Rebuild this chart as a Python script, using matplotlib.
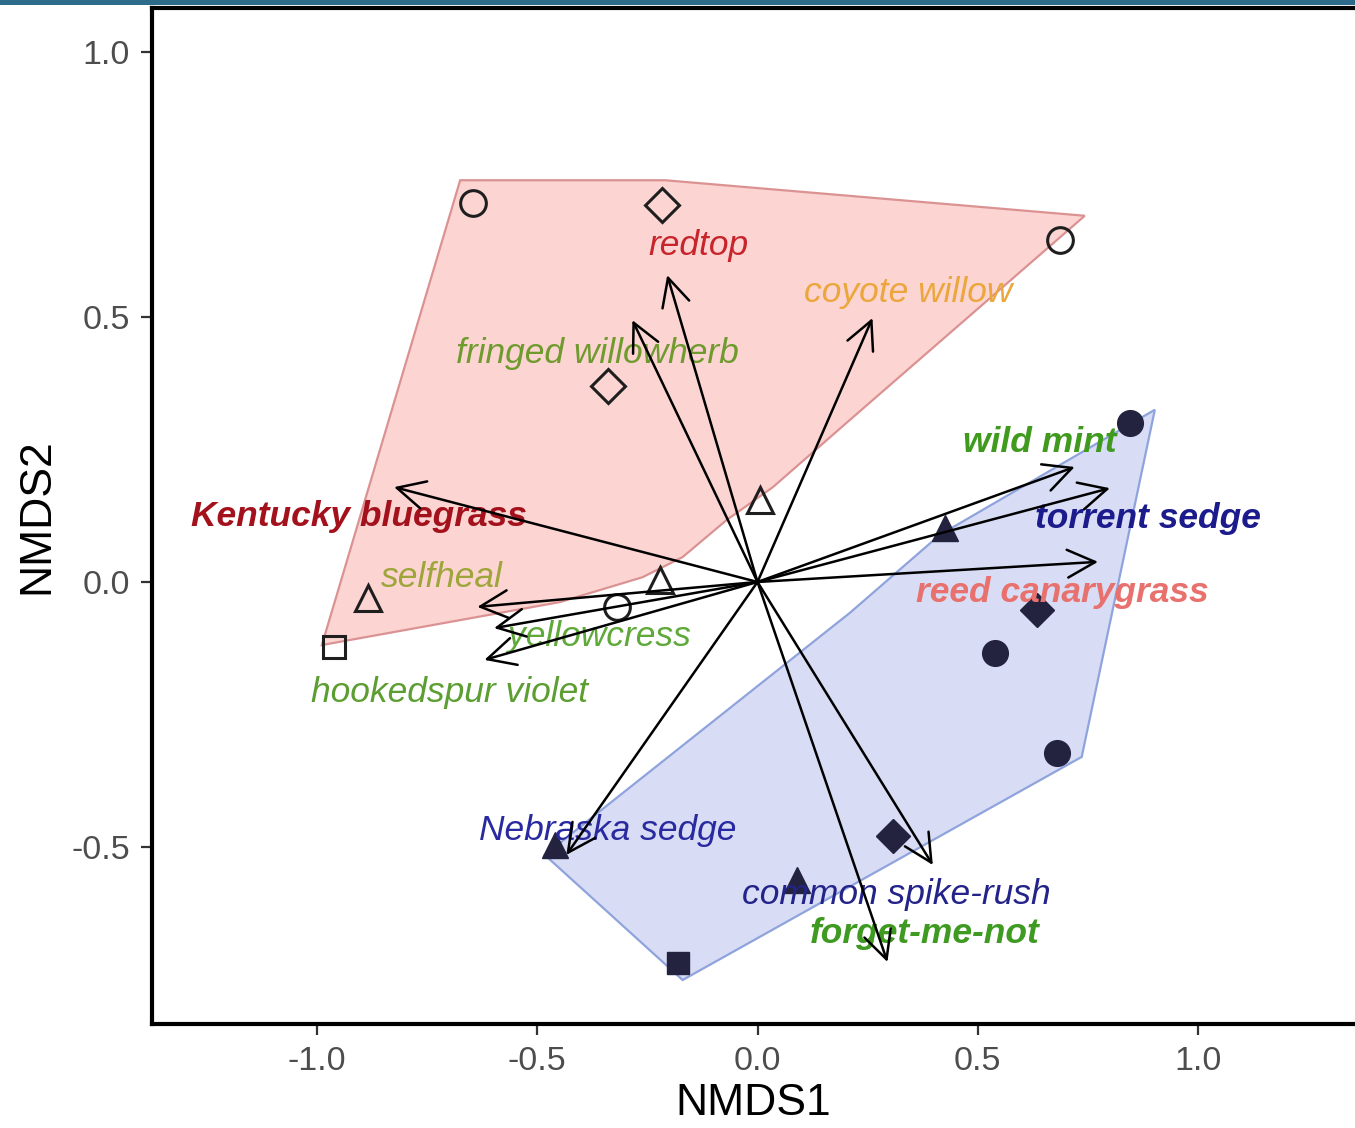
import numpy as np
import matplotlib.pyplot as plt
from matplotlib.patches import Polygon, FancyArrowPatch, Rectangle

plt.rcParams['font.family'] = ['Liberation Sans', 'DejaVu Sans']

# Site scores (NMDS1, NMDS2), marker shape and group
sites_x = [-0.645, -0.217, 0.686, -0.339, 0.005, -0.885, -0.222, -0.318, -0.962,
           0.846, 0.425, 0.635, 0.539, 0.680, 0.307, 0.090, -0.460, -0.181]
sites_y = [0.715, 0.711, 0.645, 0.370, 0.155, -0.030, 0.004, -0.047, -0.123,
           0.300, 0.102, -0.053, -0.134, -0.323, -0.479, -0.562, -0.496, -0.719]
sites_shape = ['o', 'D', 'o', 'D', '^', '^', '^', 'o', 's',
               'o', '^', 'D', 'o', 'o', 'D', '^', '^', 's']
sites_group = ['upland'] * 9 + ['wetland'] * 9

# Hull outlines for the two groups
upland_hull_x = [-0.675, -0.210, 0.743, 0.210, 0.035, -0.070, -0.170, -0.261, -0.449, -0.989]
upland_hull_y = [0.758, 0.758, 0.691, 0.306, 0.179, 0.117, 0.047, 0.009, -0.038, -0.119]
wetland_hull_x = [0.902, 0.736, -0.170, -0.483, 0.210, 0.414]
wetland_hull_y = [0.325, -0.330, -0.751, -0.515, -0.058, 0.089]

# Species vectors
species = ['redtop', 'fringed willowherb', 'coyote willow', 'Kentucky bluegrass',
           'selfheal', 'yellowcress', 'hookedspur violet', 'wild mint',
           'torrent sedge', 'reed canarygrass', 'Nebraska sedge',
           'common spike-rush', 'forget-me-not']
vec_x = [-0.205, -0.284, 0.261, -0.825, -0.636, -0.598, -0.620, 0.720,
         0.800, 0.773, -0.434, 0.398, 0.295]
vec_y = [0.579, 0.494, 0.498, 0.179, -0.047, -0.087, -0.147, 0.217,
         0.177, 0.038, -0.515, -0.534, -0.717]
label_x = [-0.134, -0.364, 0.341, -0.905, -0.716, -0.359, -0.700, 0.641,
           0.886, 0.691, -0.341, 0.316, 0.380]
label_y = [0.634, 0.432, 0.547, 0.123, 0.008, -0.102, -0.208, 0.264,
           0.119, -0.019, -0.468, -0.589, -0.664]
label_color = ['#c8242c', '#6f9a2e', '#eba63c', '#a3121c', '#9ea53a', '#5fa83a',
               '#5c9e32', '#3f9a1e', '#1b1b8c', '#e8716e', '#2a2aa0', '#23238a',
               '#3e9a20']
label_bold = [False, False, False, True, False, False, False, True,
              True, True, False, False, True]

fig = plt.figure(figsize=(13.55, 11.28), dpi=100)
ax = fig.add_axes([152 / 1355, 104 / 1128, 1203 / 1355, 1016 / 1128])

# strip along the top edge
fig.patches.append(Rectangle((0, 1 - 5 / 1128), 1, 5 / 1128, transform=fig.transFigure,
                             facecolor='#2e6a8a', edgecolor='none'))

ax.add_patch(Polygon(np.column_stack([upland_hull_x, upland_hull_y]), closed=True,
                     facecolor='#F8766D', alpha=0.3, edgecolor='none', zorder=1))
ax.add_patch(Polygon(np.column_stack([upland_hull_x, upland_hull_y]), closed=True,
                     facecolor='none', edgecolor='#db9292', lw=1.6, zorder=1.1))
ax.add_patch(Polygon(np.column_stack([wetland_hull_x, wetland_hull_y]), closed=True,
                     facecolor='#7f8fe0', alpha=0.3, edgecolor='none', zorder=1))
ax.add_patch(Polygon(np.column_stack([wetland_hull_x, wetland_hull_y]), closed=True,
                     facecolor='none', edgecolor='#8fa3dc', lw=1.6, zorder=1.1))

msize = {'o': 18.5, 'D': 17.5, '^': 18.5, 's': 16.5}
for x, y, m, g in zip(sites_x, sites_y, sites_shape, sites_group):
    if g == 'upland':
        ax.plot(x, y, marker=m, ms=msize[m], mfc='none', mec='#1e1e1e', mew=2.2,
                ls='none', zorder=3)
    else:
        ax.plot(x, y, marker=m, ms=msize[m], mfc='#23233f', mec='#23233f', mew=1,
                ls='none', zorder=3)

for name, lx, ly, c, b in zip(species, label_x, label_y, label_color, label_bold):
    ax.text(lx, ly, name, color=c, fontsize=25.5, style='italic',
            fontweight='bold' if b else 'normal', ha='center', va='center', zorder=4)

for vx, vy in zip(vec_x, vec_y):
    ax.add_patch(FancyArrowPatch((0, 0), (vx, vy), arrowstyle='->,head_length=1.0,head_width=0.5',
                                 mutation_scale=20, lw=1.8, color='black',
                                 shrinkA=0, shrinkB=0, zorder=5))

ax.set_xlim(-1.3746, 1.3564)
ax.set_ylim(-0.834, 1.083)
ax.set_xticks([-1.0, -0.5, 0.0, 0.5, 1.0])
ax.set_xticklabels(['-1.0', '-0.5', '0.0', '0.5', '1.0'])
ax.set_yticks([-0.5, 0.0, 0.5, 1.0])
ax.set_yticklabels(['-0.5', '0.0', '0.5', '1.0'])
ax.tick_params(labelsize=24.5, labelcolor='#4d4d4d', color='#333333', length=8, width=1.6, pad=8)
for side in ['left', 'bottom', 'top']:
    ax.spines[side].set_linewidth(3)
    ax.spines[side].set_color('black')
ax.spines['right'].set_visible(False)
ax.set_xlabel('NMDS1', fontsize=32, labelpad=4)
ax.set_ylabel('NMDS2', fontsize=32, labelpad=10)

fig.savefig('out.png', dpi=100)
